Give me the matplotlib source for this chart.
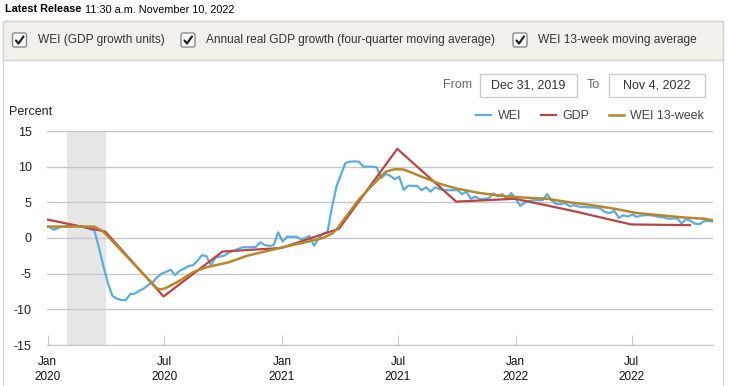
import pandas as pd
import matplotlib
matplotlib.use("Agg")
import matplotlib.pyplot as plt
import matplotlib.dates as mdates
from matplotlib.patches import Rectangle, FancyBboxPatch

plt.rcParams['font.family'] = ['Liberation Sans', 'DejaVu Sans']
plt.rcParams['axes.unicode_minus'] = False

# weekly WEI, weeks ending Saturday (from Dec 28, 2019)
wei_dates = pd.date_range('2019-12-28', periods=150, freq='W-SAT')
wei = [
    1.8,
    1.5, 1.15, 1.45, 1.6, 1.7, 1.75, 1.7, 1.6, 1.5, 1.25,
    1.05, -1.3, -3.9, -6.3, -8.1, -8.5, -8.7, -8.7, -7.85, -7.8,
    -7.4, -7.1, -6.6, -6.2, -5.5, -5.0, -4.75, -4.45, -5.2, -4.6,
    -4.3, -3.95, -3.8, -3.2, -2.4, -2.55, -3.8, -2.75, -2.6, -2.45,
    -2.05, -1.8, -1.55, -1.3, -1.3, -1.3, -1.25, -0.6, -1.0, -1.1,
    -1.0, 0.8, -0.5, 0.2, 0.15, 0.2, -0.15, -0.05, 0.3, -1.1,
    -0.1, 0.6, 0.85, 4.3, 7.2, 8.9, 10.5, 10.7, 10.75, 10.7,
    10.0, 10.0, 10.0, 9.9, 8.4, 9.0, 8.7, 8.25, 8.6, 6.75,
    7.35, 7.3, 7.3, 6.7, 7.1, 6.5, 7.1, 6.85, 6.7, 6.7,
    6.7, 6.7, 6.15, 6.5, 5.5, 5.8, 5.45, 5.5, 5.55, 6.25,
    5.85, 6.15, 5.45, 6.3, 5.45, 4.5, 4.95, 5.2, 5.3, 5.3,
    5.3, 6.15, 5.3, 4.75, 4.75, 4.9, 4.45, 4.6, 4.4, 4.35,
    4.3, 4.3, 4.25, 4.1, 3.6, 3.5, 3.8, 2.8, 3.2, 3.0,
    3.3, 2.95, 3.15, 3.2, 3.2, 3.1, 2.95, 2.9, 2.7, 2.75,
    2.75, 2.05, 2.65, 2.4, 2.0, 1.95, 2.35, 2.4, 2.3,
]

# quarterly GDP growth (four-quarter), plotted at quarter end
gdp_dates = pd.to_datetime(['2019-12-31', '2020-03-31', '2020-06-30', '2020-09-30',
                            '2020-12-31', '2021-03-31', '2021-06-30', '2021-09-30',
                            '2021-12-31', '2022-03-31', '2022-06-30', '2022-09-30'])
gdp = [2.6, 0.9, -8.2, -1.9, -1.4, 1.3, 12.5, 5.1, 5.5, 3.8, 1.9, 1.8]

# WEI 13-week moving average, read at selected dates
ma_dates = pd.to_datetime(['2019-12-31', '2020-03-14', '2020-03-28', '2020-06-20',
                           '2020-06-27', '2020-07-04', '2020-07-25', '2020-08-15',
                           '2020-09-05', '2020-10-10', '2020-11-07', '2020-12-05',
                           '2021-01-02', '2021-02-06', '2021-03-06', '2021-03-20',
                           '2021-03-27', '2021-05-01', '2021-05-22', '2021-06-12',
                           '2021-06-26', '2021-07-10', '2021-08-07', '2021-09-04',
                           '2021-10-02', '2021-11-06', '2021-12-11', '2022-01-08',
                           '2022-02-19', '2022-03-26', '2022-04-30', '2022-06-04',
                           '2022-07-09', '2022-08-13', '2022-09-17', '2022-10-22',
                           '2022-11-05'])
wei_ma = [1.6, 1.6, 0.9, -7.1, -7.2, -7.0, -6.0, -4.8, -4.1, -3.4, -2.5, -1.9,
          -1.3, -0.6, 0.0, 0.6, 1.2, 5.4, 7.4, 9.3, 9.65, 9.6, 8.6, 7.6,
          6.9, 6.3, 5.9, 5.7, 5.5, 5.0, 4.6, 4.1, 3.5, 3.2, 2.9, 2.7, 2.5]

recession = (pd.Timestamp('2020-02-01'), pd.Timestamp('2020-04-01'))
x_start, x_end = pd.Timestamp('2019-12-31'), pd.Timestamp('2022-11-05')

c_wei = '#5aade0'
c_gdp = '#b94545'
c_ma = '#b8862b'

fig = plt.figure(figsize=(7.29, 3.86), dpi=100)

# page furniture in pixel coordinates
bg = fig.add_axes([0, 0, 1, 1])
bg.set_xlim(0, 729)
bg.set_ylim(386, 0)
bg.axis('off')
bg.add_patch(Rectangle((3, 21), 720, 380, facecolor='white', edgecolor='#d4d4d4', lw=1))
bg.add_patch(Rectangle((3, 21), 720, 39, facecolor='#f3f0eb', edgecolor='#d4d4d4', lw=1))
t_rel = bg.text(5, 9, 'Latest Release', fontsize=7.8, fontweight='bold', va='center')
bg.annotate('11:30 a.m. November 10, 2022', xy=(1, 0.5), xycoords=t_rel,
            xytext=(2.5, 0), textcoords='offset points', fontsize=7.8, va='center')

checks = [(12.5, 'WEI (GDP growth units)'),
          (181, 'Annual real GDP growth (four-quarter moving average)'),
          (513, 'WEI 13-week moving average')]
for bx, label in checks:
    bg.add_patch(FancyBboxPatch((bx, 33), 14, 14, boxstyle='round,pad=0,rounding_size=2',
                                facecolor='white', edgecolor='#8a8a8a', lw=1))
    bg.plot([bx + 3.5, bx + 6, bx + 11], [40.5, 43.5, 36.5], color='#222222', lw=1.6,
            solid_capstyle='round')
    bg.text(bx + 25.5, 40.5, label, fontsize=8.6, va='center', color='#333333')

bg.text(443, 85.5, 'From', fontsize=9, va='center', color='#666666')
bg.add_patch(Rectangle((480, 74), 97, 23, facecolor='white', edgecolor='#cccccc', lw=1))
bg.text(528.5, 85.5, 'Dec 31, 2019', fontsize=9, va='center', ha='center', color='#333333')
bg.text(587, 85.5, 'To', fontsize=9, va='center', color='#666666')
bg.add_patch(Rectangle((609, 74), 96, 23, facecolor='white', edgecolor='#cccccc', lw=1))
bg.text(657, 85.5, 'Nov 4, 2022', fontsize=9, va='center', ha='center', color='#333333')
bg.text(9, 112, 'Percent', fontsize=9, va='center', color='#222222')

# chart
ax = fig.add_axes([47 / 729, 1 - 345 / 386, 666 / 729, 214 / 386])
ax.patch.set_alpha(0)
ax.axvspan(recession[0], recession[1], color='#e6e6e6', zorder=0, lw=0)
ax.plot(wei_dates, wei, color=c_wei, lw=1.6, label='WEI', zorder=3)
ax.plot(gdp_dates, gdp, color=c_gdp, lw=1.6, label='GDP', zorder=4)
ax.plot(ma_dates, wei_ma, color=c_ma, lw=1.8, label='WEI 13-week', zorder=5)

ax.set_xlim(x_start, x_end)
ax.set_ylim(-15, 15)
ax.set_yticks([-15, -10, -5, 0, 5, 10, 15])
ax.yaxis.grid(True, color='#c8c8c8', lw=1)
ax.set_axisbelow(True)
for s in ['top', 'right', 'left']:
    ax.spines[s].set_visible(False)
ax.spines['bottom'].set_color('#c8c8c8')
ax.tick_params(axis='y', length=0, pad=11, labelsize=9, labelcolor='#222222')

ax.xaxis.set_major_locator(mdates.MonthLocator(bymonth=[1, 7]))
ax.xaxis.set_major_formatter(mdates.DateFormatter('%b\n%Y'))
ax.tick_params(axis='x', direction='in', length=7, color='#c8c8c8', pad=8,
               labelsize=8.5, labelcolor='#111111')
for t in ax.get_xticklabels():
    t.set_linespacing(1.3)

ax.legend(loc='lower right', bbox_to_anchor=(1.0, 1.0), ncol=3, frameon=False,
          fontsize=9, handlelength=1.2, columnspacing=1.6, handletextpad=0.5,
          borderaxespad=0.3, labelcolor='#444444')

fig.savefig('out.png', dpi=100)
